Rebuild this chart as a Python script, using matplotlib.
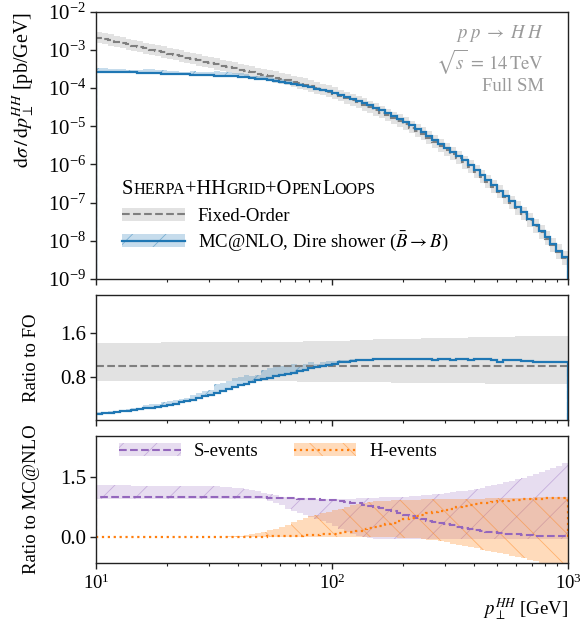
import numpy as np
import matplotlib.pyplot as plt
from matplotlib.colors import to_rgba
from matplotlib.patches import Patch
from matplotlib.lines import Line2D
from matplotlib.ticker import LogLocator, NullLocator, FixedLocator, FormatStrFormatter

plt.rcParams['font.family'] = ['Liberation Serif', 'DejaVu Serif']
plt.rcParams['mathtext.fontset'] = 'stix'
plt.rcParams['hatch.linewidth'] = 0.6

# p_T^HH bin edges [GeV]
edges = [10.0, 10.59, 11.22, 11.89, 12.59, 13.34, 14.13, 14.96, 15.85, 16.79,
         17.78, 18.84, 19.95, 21.13, 22.39, 23.71, 25.12, 26.61, 28.18, 29.85,
         31.62, 33.50, 35.48, 37.58, 39.81, 42.17, 44.67, 47.32, 50.12, 53.09,
         56.23, 59.57, 63.10, 66.83, 70.79, 74.99, 79.43, 84.14, 89.13, 94.41,
         100.0, 105.9, 112.2, 118.9, 125.9, 133.4, 141.3, 149.6, 158.5, 167.9,
         177.8, 188.4, 199.5, 211.3, 223.9, 237.1, 251.2, 266.1, 281.8, 298.5,
         316.2, 335.0, 354.8, 375.8, 398.1, 421.7, 446.7, 473.2, 501.2, 530.9,
         562.3, 595.7, 631.0, 668.3, 707.9, 749.9, 794.3, 841.4, 891.3, 944.1,
         1000.0]

# fixed-order spectrum [pb/GeV]
fo = [2.10e-3, 1.94e-3, 1.79e-3, 1.65e-3, 1.52e-3, 1.40e-3, 1.29e-3, 1.19e-3, 1.10e-3, 1.02e-3,
      9.38e-4, 8.65e-4, 7.98e-4, 7.36e-4, 6.79e-4, 6.27e-4, 5.78e-4, 5.33e-4, 4.92e-4, 4.54e-4,
      4.19e-4, 3.86e-4, 3.56e-4, 3.29e-4, 3.03e-4, 2.80e-4, 2.58e-4, 2.38e-4, 2.21e-4, 2.05e-4,
      1.90e-4, 1.76e-4, 1.62e-4, 1.48e-4, 1.35e-4, 1.23e-4, 1.11e-4, 9.98e-5, 8.93e-5, 8.02e-5,
      7.11e-5, 6.27e-5, 5.52e-5, 4.86e-5, 4.24e-5, 3.65e-5, 3.14e-5, 2.70e-5, 2.30e-5, 1.94e-5,
      1.63e-5, 1.37e-5, 1.14e-5, 9.31e-6, 7.60e-6, 6.22e-6, 5.00e-6, 3.94e-6, 3.12e-6, 2.46e-6,
      1.91e-6, 1.47e-6, 1.13e-6, 8.65e-7, 6.52e-7, 4.80e-7, 3.54e-7, 2.61e-7, 1.90e-7, 1.37e-7,
      9.86e-8, 7.10e-8, 5.01e-8, 3.47e-8, 2.40e-8, 1.66e-8, 1.13e-8, 7.60e-9, 5.12e-9, 3.44e-9]
# FO scale band relative to FO
fo_lo = [0.73, 0.73, 0.73, 0.73, 0.73, 0.73, 0.73, 0.73, 0.73, 0.73,
         0.73, 0.73, 0.73, 0.73, 0.73, 0.73, 0.73, 0.73, 0.73, 0.73,
         0.73, 0.73, 0.73, 0.73, 0.73, 0.73, 0.73, 0.73, 0.73, 0.73,
         0.73, 0.73, 0.73, 0.73, 0.72, 0.72, 0.72, 0.72, 0.72, 0.72,
         0.72, 0.72, 0.71, 0.71, 0.71, 0.71, 0.71, 0.71, 0.71, 0.71,
         0.70, 0.70, 0.70, 0.70, 0.70, 0.70, 0.70, 0.70, 0.69, 0.69,
         0.69, 0.69, 0.69, 0.69, 0.69, 0.69, 0.68, 0.68, 0.68, 0.68,
         0.68, 0.68, 0.68, 0.68, 0.67, 0.67, 0.67, 0.67, 0.67, 0.67]
fo_hi = [1.43, 1.43, 1.43, 1.43, 1.43, 1.43, 1.43, 1.43, 1.43, 1.43,
         1.43, 1.44, 1.44, 1.44, 1.44, 1.44, 1.44, 1.44, 1.44, 1.44,
         1.44, 1.44, 1.44, 1.44, 1.44, 1.44, 1.45, 1.45, 1.45, 1.45,
         1.45, 1.45, 1.45, 1.45, 1.45, 1.46, 1.46, 1.46, 1.46, 1.47,
         1.47, 1.47, 1.47, 1.48, 1.48, 1.48, 1.48, 1.49, 1.49, 1.49,
         1.49, 1.50, 1.50, 1.50, 1.50, 1.51, 1.51, 1.51, 1.51, 1.52,
         1.52, 1.52, 1.52, 1.53, 1.53, 1.53, 1.53, 1.54, 1.54, 1.54,
         1.54, 1.55, 1.55, 1.55, 1.55, 1.56, 1.56, 1.56, 1.56, 1.56]

# MC@NLO / FO and its band
mc_ratio = [0.13, 0.14, 0.15, 0.16, 0.175, 0.19, 0.20, 0.215, 0.23, 0.245,
            0.26, 0.28, 0.30, 0.32, 0.34, 0.37, 0.39, 0.42, 0.45, 0.48,
            0.51, 0.54, 0.58, 0.62, 0.65, 0.68, 0.72, 0.75, 0.77, 0.79,
            0.82, 0.84, 0.86, 0.88, 0.91, 0.93, 0.96, 0.98, 1.00, 1.03,
            1.05, 1.07, 1.08, 1.10, 1.11, 1.12, 1.12, 1.13, 1.13, 1.13,
            1.14, 1.13, 1.13, 1.14, 1.13, 1.13, 1.13, 1.12, 1.13, 1.13,
            1.12, 1.13, 1.13, 1.12, 1.13, 1.13, 1.13, 1.12, 1.08, 1.11,
            1.11, 1.11, 1.10, 1.09, 1.08, 1.08, 1.08, 1.07, 1.07, 1.07]
mc_lo = [0.12, 0.13, 0.14, 0.15, 0.165, 0.18, 0.19, 0.205, 0.22, 0.235,
         0.25, 0.27, 0.29, 0.31, 0.33, 0.36, 0.38, 0.41, 0.44, 0.47,
         0.50, 0.53, 0.57, 0.61, 0.64, 0.67, 0.71, 0.74, 0.76, 0.78,
         0.81, 0.83, 0.85, 0.87, 0.90, 0.92, 0.95, 0.97, 0.99, 1.02,
         1.04, 1.06, 1.07, 1.09, 1.10, 1.11, 1.11, 1.12, 1.12, 1.12,
         1.13, 1.12, 1.12, 1.13, 1.12, 1.12, 1.12, 1.11, 1.12, 1.12,
         1.11, 1.12, 1.12, 1.11, 1.12, 1.12, 1.12, 1.11, 1.07, 1.10,
         1.10, 1.10, 1.09, 1.08, 1.07, 1.07, 1.07, 1.06, 1.06, 1.06]
mc_hi = [0.16, 0.17, 0.18, 0.19, 0.205, 0.22, 0.23, 0.245, 0.29, 0.305,
         0.32, 0.34, 0.36, 0.38, 0.40, 0.43, 0.48, 0.51, 0.54, 0.57,
         0.67, 0.70, 0.74, 0.78, 0.81, 0.84, 0.82, 0.85, 0.94, 0.96,
         0.99, 1.01, 1.03, 1.05, 1.03, 1.05, 1.08, 1.05, 1.07, 1.10,
         1.09, 1.11, 1.12, 1.14, 1.13, 1.14, 1.14, 1.15, 1.15, 1.15,
         1.16, 1.15, 1.15, 1.16, 1.15, 1.15, 1.15, 1.14, 1.15, 1.15,
         1.14, 1.15, 1.15, 1.14, 1.15, 1.15, 1.15, 1.14, 1.10, 1.13,
         1.13, 1.13, 1.12, 1.11, 1.10, 1.10, 1.10, 1.09, 1.09, 1.09]

# S- and H-event contributions relative to MC@NLO
s_frac = [1.00, 1.00, 1.00, 1.00, 1.00, 1.00, 1.00, 1.00, 1.00, 1.00,
          1.00, 1.00, 1.00, 1.00, 1.00, 1.00, 1.00, 1.00, 1.00, 1.00,
          1.00, 1.00, 1.00, 0.99, 0.99, 0.99, 0.99, 0.99, 0.99, 0.98,
          0.98, 0.98, 0.97, 0.97, 0.96, 0.95, 0.95, 0.94, 0.93, 0.93,
          0.92, 0.90, 0.88, 0.86, 0.84, 0.81, 0.78, 0.75, 0.72, 0.68,
          0.64, 0.60, 0.56, 0.52, 0.48, 0.45, 0.41, 0.38, 0.35, 0.32,
          0.29, 0.26, 0.23, 0.21, 0.18, 0.16, 0.14, 0.12, 0.11, 0.09,
          0.08, 0.07, 0.06, 0.05, 0.04, 0.04, 0.03, 0.03, 0.02, 0.02]
s_lo = [0.96, 0.96, 0.96, 0.96, 0.96, 0.96, 0.96, 0.96, 0.96, 0.96,
        0.96, 0.96, 0.96, 0.96, 0.96, 0.96, 0.96, 0.96, 0.96, 0.96,
        0.96, 0.96, 0.96, 0.96, 0.96, 0.96, 0.96, 0.96, 0.94, 0.91,
        0.86, 0.80, 0.70, 0.64, 0.59, 0.54, 0.50, 0.45, 0.40, 0.34,
        0.27, 0.20, 0.13, 0.07, 0.03, 0.00, -0.02, -0.04, -0.04, -0.04,
        -0.04, -0.05, -0.05, -0.05, -0.05, -0.05, -0.05, -0.05, -0.05, -0.05,
        -0.05, -0.05, -0.05, -0.05, -0.05, -0.05, -0.05, -0.05, -0.05, -0.05,
        -0.05, -0.05, -0.05, -0.05, -0.05, -0.05, -0.05, -0.05, -0.05, -0.05]
s_hi = [1.30, 1.30, 1.30, 1.29, 1.29, 1.29, 1.28, 1.28, 1.28, 1.28,
        1.27, 1.27, 1.27, 1.27, 1.26, 1.26, 1.26, 1.26, 1.26, 1.26,
        1.26, 1.25, 1.24, 1.23, 1.22, 1.20, 1.17, 1.14, 1.11, 1.08,
        1.04, 1.01, 0.99, 0.98, 0.98, 0.97, 0.97, 0.96, 0.96, 0.95,
        0.95, 0.95, 0.96, 0.96, 0.97, 0.97, 0.98, 0.98, 0.99, 0.99,
        1.00, 1.00, 1.01, 1.02, 1.03, 1.04, 1.05, 1.07, 1.08, 1.10,
        1.12, 1.14, 1.16, 1.18, 1.21, 1.23, 1.26, 1.29, 1.32, 1.36,
        1.40, 1.44, 1.48, 1.52, 1.57, 1.62, 1.67, 1.72, 1.78, 1.84]
h_frac = [0.00, 0.00, 0.00, 0.00, 0.00, 0.00, 0.00, 0.00, 0.00, 0.00,
          0.00, 0.00, 0.00, 0.00, 0.00, 0.00, 0.00, 0.00, 0.00, 0.00,
          0.00, 0.00, 0.00, 0.01, 0.01, 0.01, 0.01, 0.01, 0.01, 0.02,
          0.02, 0.02, 0.03, 0.03, 0.04, 0.05, 0.05, 0.06, 0.07, 0.07,
          0.08, 0.10, 0.12, 0.14, 0.16, 0.19, 0.22, 0.25, 0.28, 0.32,
          0.36, 0.40, 0.44, 0.48, 0.52, 0.55, 0.59, 0.62, 0.65, 0.68,
          0.71, 0.74, 0.77, 0.79, 0.82, 0.84, 0.86, 0.88, 0.89, 0.91,
          0.92, 0.93, 0.94, 0.95, 0.96, 0.96, 0.97, 0.97, 0.98, 0.98]
h_lo = [0.00, 0.00, 0.00, 0.00, 0.00, 0.00, 0.00, 0.00, 0.00, 0.00,
        0.00, 0.00, 0.00, 0.00, 0.00, 0.00, 0.00, 0.00, 0.00, 0.00,
        0.00, 0.00, 0.00, 0.00, 0.00, 0.00, 0.00, 0.00, 0.00, 0.00,
        0.00, 0.00, 0.00, 0.00, 0.00, 0.00, 0.00, 0.00, 0.00, 0.00,
        0.00, 0.00, 0.00, 0.00, 0.00, 0.00, 0.00, 0.00, 0.00, 0.00,
        0.00, -0.01, -0.01, -0.02, -0.03, -0.04, -0.06, -0.08, -0.10, -0.13,
        -0.16, -0.19, -0.22, -0.25, -0.28, -0.31, -0.34, -0.37, -0.40, -0.43,
        -0.46, -0.49, -0.53, -0.56, -0.60, -0.64, -0.67, -0.71, -0.75, -0.78]
h_hi = [0.01, 0.01, 0.01, 0.01, 0.01, 0.01, 0.01, 0.01, 0.01, 0.01,
        0.01, 0.01, 0.01, 0.01, 0.01, 0.01, 0.01, 0.01, 0.01, 0.01,
        0.01, 0.01, 0.02, 0.02, 0.03, 0.05, 0.07, 0.10, 0.13, 0.17,
        0.21, 0.26, 0.31, 0.37, 0.42, 0.47, 0.52, 0.56, 0.60, 0.63,
        0.67, 0.71, 0.75, 0.79, 0.83, 0.86, 0.88, 0.89, 0.90, 0.91,
        0.92, 0.92, 0.93, 0.93, 0.93, 0.94, 0.94, 0.94, 0.95, 0.95,
        0.95, 0.95, 0.96, 0.96, 0.96, 0.96, 0.97, 0.97, 0.97, 0.97,
        0.98, 0.98, 0.98, 0.98, 0.99, 0.99, 0.99, 0.99, 1.00, 1.00]

BLUE = '#1f77b4'
PURPLE = '#9467bd'
ORANGE = '#ff7f0e'
GREY = '#7f7f7f'
BAND_GREY = '#e2e2e2'
TXT_GREY = '#9a9a9a'
FS = 13.5

edges = np.array(edges)
fo = np.array(fo)
mc = fo * np.array(mc_ratio)


def ext(v):
    v = np.asarray(v, dtype=float)
    return np.append(v, v[-1])


def rgba(color, a):
    r, g, b, _ = to_rgba(color)
    return (r, g, b, a)


def band(ax, lo, hi, color, alpha, hatch=None, hatch_alpha=0.5):
    ax.fill_between(edges, ext(lo), ext(hi), step='post', linewidth=0,
                    facecolor=rgba(color, alpha),
                    edgecolor=rgba(color, hatch_alpha) if hatch else 'none',
                    hatch=hatch)


fig = plt.figure(figsize=(5.8, 6.24), dpi=100)
L, W = 0.1655, 0.814
ax1 = fig.add_axes([L, 0.553, W, 0.428])
ax2 = fig.add_axes([L, 0.327, W, 0.200], sharex=ax1)
ax3 = fig.add_axes([L, 0.098, W, 0.2035], sharex=ax1)

# --- main panel
band(ax1, fo * np.array(fo_lo), fo * np.array(fo_hi), BAND_GREY, 1.0)
band(ax1, fo * np.array(mc_lo), fo * np.array(mc_hi), BLUE, 0.25, '/', 0.45)
ax1.stairs(fo, edges, color=GREY, ls='--', lw=1.5)
ax1.stairs(mc, edges, color=BLUE, lw=1.6)
ax1.set_yscale('log')
ax1.set_ylim(1e-9, 1e-2)
ax1.yaxis.set_major_locator(LogLocator(base=10, numticks=20))
ax1.yaxis.set_minor_locator(NullLocator())
ax1.set_ylabel(r'$\mathrm{d}\sigma\,/\,\mathrm{d}p_{\perp}^{HH}$ [pb/GeV]', fontsize=14.5, loc='top')
ax1.yaxis.set_label_coords(-0.128, 1.0)

for yy, s in [(0.918, r'$p\;p\;\rightarrow\;H\;H$'),
              (0.813, r'$\sqrt{s}\,=\,14\,\mathrm{TeV}$'),
              (0.719, 'Full SM')]:
    ax1.text(0.949, yy, s, transform=ax1.transAxes, ha='right', va='center',
             color=TXT_GREY, fontsize=FS)

h_fo = (Patch(facecolor=BAND_GREY, edgecolor='none'), Line2D([], [], color=GREY, ls='--', lw=1.5))
h_mc = (Patch(facecolor=rgba(BLUE, 0.25), edgecolor=rgba(BLUE, 0.45), hatch='/', lw=0),
        Line2D([], [], color=BLUE, lw=1.6))
ax1.legend([h_fo, h_mc], ['Fixed-Order', r'MC@NLO, Dire shower ($\bar{B}\rightarrow B$)'],
           loc='lower left', bbox_to_anchor=(0.039, 0.068), borderaxespad=0, frameon=False,
           fontsize=FS, handlelength=3.35, handletextpad=0.7, labelspacing=0.25)

# small-caps legend header
fig.canvas.draw()
rend = fig.canvas.get_renderer()
parts = [('S', 1), ('HERPA', 0), ('+HH', 1), ('GRID', 0), ('+O', 1), ('PEN', 0), ('L', 1), ('OOPS', 0)]
xp, yp = ax1.transAxes.transform((0.055, 0.318))
for s, big in parts:
    t = fig.text(xp / fig.bbox.width, yp / fig.bbox.height, s, fontsize=14.8 if big else 11.6,
                 va='baseline', ha='left')
    xp += t.get_window_extent(rend).width

# --- ratio to FO
band(ax2, fo_lo, fo_hi, BAND_GREY, 1.0)
band(ax2, mc_lo, mc_hi, BLUE, 0.25, '/', 0.45)
ax2.stairs(fo / fo, edges, color=GREY, ls='--', lw=1.5)
ax2.stairs(mc_ratio, edges, color=BLUE, lw=1.6)
ax2.set_ylim(0.02, 2.3)
ax2.yaxis.set_major_locator(FixedLocator([0.8, 1.6]))
ax2.yaxis.set_major_formatter(FormatStrFormatter('%.1f'))
ax2.set_ylabel('Ratio to FO', fontsize=FS)
ax2.yaxis.set_label_coords(-0.118, 0.5)

# --- ratio to MC@NLO
band(ax3, s_lo, s_hi, PURPLE, 0.22, '/', 0.4)
band(ax3, h_lo, h_hi, ORANGE, 0.28, '\\', 0.45)
ax3.stairs(s_frac, edges, color=PURPLE, ls='--', lw=1.5)
ax3.stairs(h_frac, edges, color=ORANGE, ls=':', lw=1.6)
ax3.set_ylim(-0.64, 2.52)
ax3.yaxis.set_major_locator(FixedLocator([0.0, 1.5]))
ax3.yaxis.set_major_formatter(FormatStrFormatter('%.1f'))
ax3.set_ylabel('Ratio to MC@NLO', fontsize=FS)
ax3.yaxis.set_label_coords(-0.118, 0.5)
ax3.set_xlabel(r'$p_{\perp}^{HH}$ [GeV]', fontsize=FS, loc='right', labelpad=2)

h_s = (Patch(facecolor=rgba(PURPLE, 0.22), edgecolor=rgba(PURPLE, 0.4), hatch='/', lw=0),
       Line2D([], [], color=PURPLE, ls='--', lw=1.5))
h_h = (Patch(facecolor=rgba(ORANGE, 0.28), edgecolor=rgba(ORANGE, 0.45), hatch='\\', lw=0),
       Line2D([], [], color=ORANGE, ls=':', lw=1.6))
ax3.legend([h_s, h_h], ['S-events', 'H-events'], loc='upper left', ncol=2,
           bbox_to_anchor=(0.033, 1.0), borderaxespad=0, frameon=False, fontsize=FS,
           handlelength=3.3, handletextpad=0.7, columnspacing=1.9)

for ax in (ax1, ax2, ax3):
    ax.set_xscale('log')
    ax.set_xlim(10, 1000)
    ax.tick_params(which='both', direction='out', top=False, right=False, color='#222222')
    ax.tick_params(which='major', length=4.5, width=1.0, labelsize=FS)
    ax.tick_params(which='minor', length=2.5, width=0.8)
    ax.tick_params(axis='y', which='major', labelsize=15, pad=2.5)
    for sp in ax.spines.values():
        sp.set_linewidth(1.0)
        sp.set_color('#222222')
for ax in (ax1, ax2):
    ax.tick_params(labelbottom=False)

fig.savefig('out.png', dpi=100)
